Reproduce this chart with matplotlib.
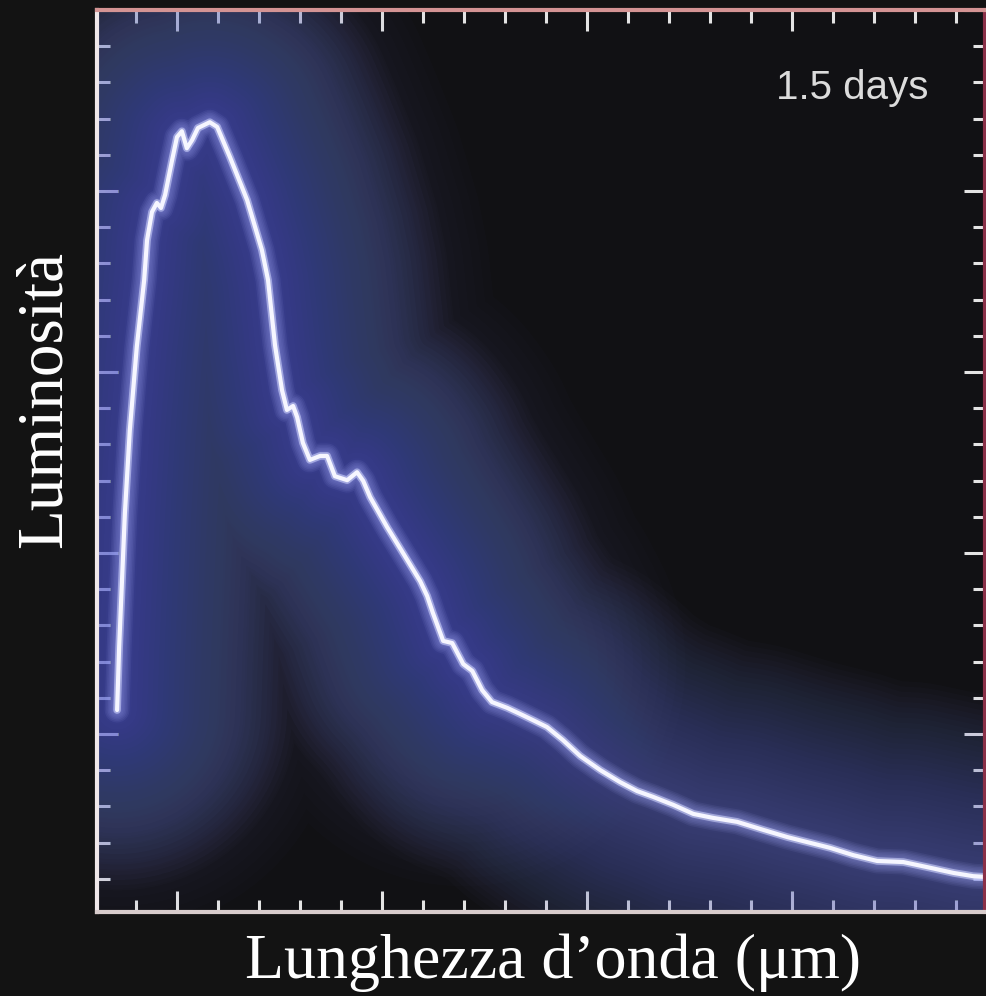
import matplotlib
matplotlib.use("Agg")
import numpy as np
import matplotlib.pyplot as plt
from matplotlib.ticker import MultipleLocator, NullFormatter

# spectrum at 1.5 days: wavelength (um) vs luminosity (arbitrary units)
wavelength = [0.354, 0.359, 0.366, 0.373, 0.385, 0.402, 0.420, 0.427, 0.439, 0.451,
              0.461, 0.471, 0.488, 0.500, 0.512, 0.524, 0.537, 0.551, 0.580, 0.598,
              0.629, 0.671, 0.707, 0.722, 0.739, 0.756, 0.768, 0.783, 0.793, 0.807,
              0.824, 0.849, 0.866, 0.885, 0.915, 0.939, 0.954, 0.971, 1.012, 1.051,
              1.093, 1.110, 1.124, 1.149, 1.171, 1.198, 1.220, 1.244, 1.268, 1.305,
              1.337, 1.368, 1.402, 1.441, 1.483, 1.532, 1.580, 1.622, 1.661, 1.710,
              1.759, 1.807, 1.866, 1.929, 1.988, 2.037, 2.093, 2.149, 2.207, 2.271,
              2.337, 2.393, 2.441, 2.470]
luminosity = [5.66, 7.40, 9.25, 11.10, 13.39, 15.69, 17.54, 18.64, 19.42, 19.67,
              19.53, 19.89, 20.85, 21.49, 21.65, 21.18, 21.41, 21.74, 21.90, 21.77,
              20.94, 19.75, 18.37, 17.54, 15.74, 14.50, 13.95, 14.06, 13.75, 13.04,
              12.57, 12.68, 12.68, 12.12, 12.01, 12.23, 11.99, 11.54, 10.72, 10.00,
              9.22, 8.81, 8.34, 7.57, 7.51, 6.93, 6.74, 6.21, 5.88, 5.72,
              5.55, 5.38, 5.19, 4.83, 4.39, 4.00, 3.67, 3.42, 3.26, 3.04,
              2.79, 2.68, 2.57, 2.35, 2.15, 2.01, 1.85, 1.65, 1.49, 1.46,
              1.30, 1.16, 1.07, 1.05]

label_epoch = "1.5 days"
xlabel = "Lunghezza d\u2019onda (\u03bcm)"
ylabel = "Luminosit\u00e0"

bg = "#131313"
fig = plt.figure(figsize=(9.87, 9.96), dpi=100, facecolor=bg)
ax = fig.add_axes([97 / 987, 84 / 996, 888 / 987, 902 / 996])
ax.set_facecolor("#111114")

# soft blue halo: wide translucent strokes of the same curve
glow = "#6e78d4"
for w in np.linspace(260, 6, 35):
    ax.plot(wavelength, luminosity, color=glow, lw=w, alpha=0.022,
            solid_capstyle="round", solid_joinstyle="round")
# the bright part of the spectrum glows a little more
n_peak = sum(1 for v in wavelength if v <= 1.2)
for w in np.linspace(320, 20, 25):
    ax.plot(wavelength[:n_peak], luminosity[:n_peak], color=glow, lw=w, alpha=0.016,
            solid_capstyle="round", solid_joinstyle="round")
# brighter inner halo close to the line
for w in np.linspace(18, 5, 7):
    ax.plot(wavelength, luminosity, color="#aab2ff", lw=w, alpha=0.08,
            solid_capstyle="round", solid_joinstyle="round")
ax.plot(wavelength, luminosity, color="#d4d8ff", lw=5.5, alpha=0.55,
        solid_capstyle="round", solid_joinstyle="round")
ax.plot(wavelength, luminosity, color="#f6f6ff", lw=3,
        solid_capstyle="round", solid_joinstyle="round")

ax.set_xlim(0.305, 2.47)
ax.set_ylim(0.08, 25.0)

ax.xaxis.set_major_locator(MultipleLocator(0.5))
ax.xaxis.set_minor_locator(MultipleLocator(0.1))
ax.yaxis.set_major_locator(MultipleLocator(5))
ax.yaxis.set_minor_locator(MultipleLocator(1))
ax.xaxis.set_major_formatter(NullFormatter())
ax.yaxis.set_major_formatter(NullFormatter())
ax.tick_params(which="both", direction="in", top=True, right=True,
               color="#e4e4e4", width=2.2)
ax.tick_params(which="major", length=15)
ax.tick_params(which="minor", length=9)

ax.spines["left"].set_color("#f0e8ea")
ax.spines["bottom"].set_color("#d8cccc")
ax.spines["top"].set_color("#d49494")
ax.spines["right"].set_color("#8a3048")
for s in ax.spines.values():
    s.set_linewidth(3)

ax.text(0.85, 0.913, label_epoch, transform=ax.transAxes, ha="center", va="center",
        color="#dcdcdc", fontsize=29, family="Liberation Sans")

fig.text(553 / 987, 1 - 963 / 996, xlabel, ha="center", va="center",
         color="white", fontsize=46, family="Liberation Serif")
fig.text(45 / 987, 1 - 399 / 996, ylabel, ha="center", va="center", rotation=90,
         color="white", fontsize=47, family="Liberation Serif")

fig.savefig("out.png", dpi=100, facecolor=bg)
